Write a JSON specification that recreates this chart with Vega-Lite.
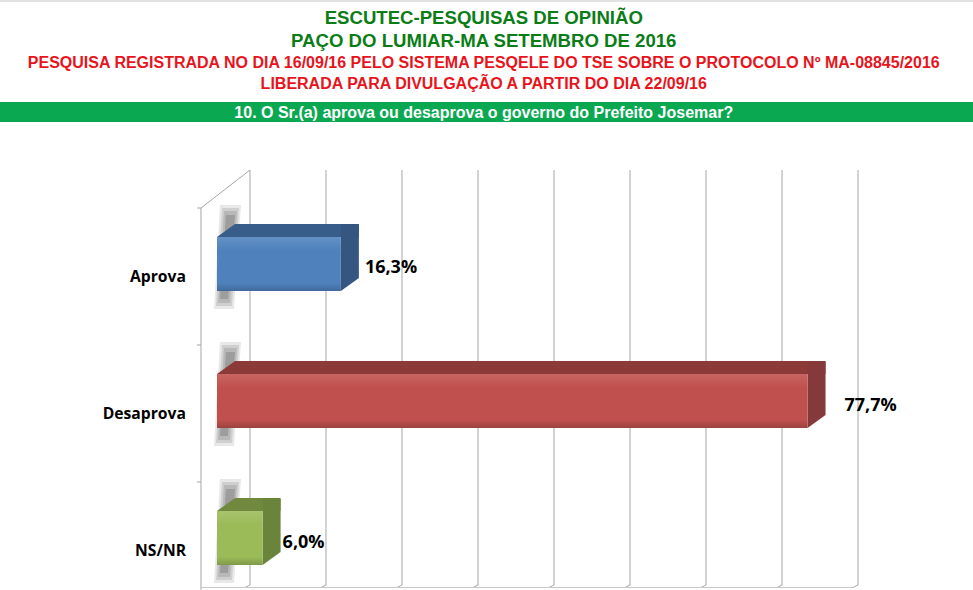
{
"$schema":"https://vega.github.io/schema/vega-lite/v6.json",
"width":973,"height":590,"padding":0,
"autosize":{"type":"fit","contains":"padding"},
"background":"#ffffff",
"view":{"stroke":null},
"datasets":{
"bars":[{"cat":"Aprova","value":16.3,"label":"16,3%"},{"cat":"Desaprova","value":77.7,"label":"77,7%"},{"cat":"NS/NR","value":6.0,"label":"6,0%"}],
"grid":[{"g":0},{"g":10},{"g":20},{"g":30},{"g":40},{"g":50},{"g":60},{"g":70},{"g":80}]
},
"data":{"name":"bars"},
"layer":[
{"data":{"values":[{"line":"strip"}]},"mark":{"type":"bar","height":2,"color":"#e2e2e2"},
 "encoding":{"y":{"field":"line","type":"nominal","axis":null,"scale":{"type":"point","domain":["strip"],"range":[1,1]}}}},
{"data":{"values":[{"line":"band"}]},"mark":{"type":"bar","height":20,"color":"#0aa851"},
 "encoding":{"y":{"field":"line","type":"nominal","axis":null,"scale":{"type":"point","domain":["band"],"range":[112,112]}}}},
{"data":{"values":[{"t":"ESCUTEC-PESQUISAS DE OPINIÃO"},{"t":"PAÇO DO LUMIAR-MA SETEMBRO DE 2016"}]},
 "mark":{"type":"text","font":"Liberation Sans","fontWeight":"bold","fontSize":18.6,"color":"#0b7d16"},
 "encoding":{"x":{"datum":35.1,"type":"quantitative","axis":null,"scale":{"domain":[-28.55,99.47],"nice":false,"zero":false}},
  "y":{"field":"t","type":"nominal","axis":null,"sort":null,"scale":{"type":"point","padding":0,"range":[18,41]}},
  "text":{"field":"t"}}},
{"data":{"values":[{"t":"PESQUISA REGISTRADA NO DIA 16/09/16 PELO SISTEMA PESQELE DO TSE SOBRE O PROTOCOLO Nº MA-08845/2016"},{"t":"LIBERADA PARA DIVULGAÇÃO A PARTIR DO DIA 22/09/16"}]},
 "mark":{"type":"text","font":"Liberation Sans","fontWeight":"bold","fontSize":16,"color":"#e8141c"},
 "encoding":{"x":{"datum":35.1,"type":"quantitative","axis":null,"scale":{"domain":[-28.55,99.47],"nice":false,"zero":false}},
  "y":{"field":"t","type":"nominal","axis":null,"sort":null,"scale":{"type":"point","padding":0,"range":[63,84]}},
  "text":{"field":"t"}}},
{"data":{"values":[{"t":"10. O Sr.(a) aprova ou desaprova o governo do Prefeito Josemar?"}]},
 "mark":{"type":"text","font":"Liberation Sans","fontWeight":"bold","fontSize":16,"color":"#ffffff"},
 "encoding":{"x":{"datum":35.1,"type":"quantitative","axis":null,"scale":{"domain":[-28.55,99.47],"nice":false,"zero":false}},
  "y":{"field":"t","type":"nominal","axis":null,"scale":{"type":"point","range":[113,113]}},
  "text":{"field":"t"}}},
{"data":{"name":"grid"},"mark":{"type":"rule","color":"#a6a6a6","strokeWidth":1,"xOffset":33},
 "encoding":{"x":{"field":"g","type":"quantitative","axis":null,"scale":{"domain":[-28.55,99.47],"nice":false,"zero":false}},
  "y":{"datum":1,"type":"quantitative","axis":null,"scale":{"domain":[0,1],"range":[585,170]}},"y2":{"datum":0}}},
{"data":{"name":"grid"},"mark":{"type":"point","filled":false,"opacity":1,"size":4,"shape":"M0,0L-5,2.5","color":"#a6a6a6","strokeWidth":1,"xOffset":33},
 "encoding":{"x":{"field":"g","type":"quantitative","axis":null,"scale":{"domain":[-28.55,99.47],"nice":false,"zero":false}},
  "y":{"datum":0,"type":"quantitative","axis":null,"scale":{"domain":[0,1],"range":[585,170]}}}},
{"data":{"values":[{"g":0}]},"mark":{"type":"rule","color":"#a6a6a6","strokeWidth":1,"xOffset":-16},
 "encoding":{"x":{"field":"g","type":"quantitative","axis":null,"scale":{"domain":[-28.55,99.47],"nice":false,"zero":false}},
  "y":{"datum":0,"type":"quantitative","axis":null,"scale":{"domain":[0,1],"range":[590,208]}},"y2":{"datum":1}}},
{"data":{"values":[{"g":0}]},"mark":{"type":"point","filled":false,"opacity":1,"size":4,"shape":"M0,0L49,-38","color":"#a6a6a6","strokeWidth":1,"xOffset":-16},
 "encoding":{"x":{"field":"g","type":"quantitative","axis":null,"scale":{"domain":[-28.55,99.47],"nice":false,"zero":false}},
  "y":{"datum":1,"type":"quantitative","axis":null,"scale":{"domain":[0,1],"range":[590,208]}}}},
{"data":{"values":[{"g":0}]},"mark":{"type":"point","filled":false,"opacity":1,"size":4,"shape":"M0,0L652,0","color":"#c8c8c8","strokeWidth":1,"xOffset":-16},
 "encoding":{"x":{"field":"g","type":"quantitative","axis":null,"scale":{"domain":[-28.55,99.47],"nice":false,"zero":false}},
  "y":{"datum":0.5,"type":"quantitative","axis":null,"scale":{"domain":[0,1],"range":[588,587]}}}},
{"mark":{"type":"point","filled":false,"opacity":1,"size":4,"shape":"M0,0L-4,0","color":"#a6a6a6","strokeWidth":1,"xOffset":-16},
 "encoding":{"x":{"datum":0,"type":"quantitative","axis":null,"scale":{"domain":[-28.55,99.47],"nice":false,"zero":false}},
  "y":{"field":"cat","type":"nominal","axis":null,"scale":{"type":"point","padding":0,"range":[208,482]}}}},
{"mark":{"type":"point","filled":true,"size":4,"shape":"M3,-32L24,-32L17,72L-3,72Z","fill":"#707070","strokeWidth":0,"opacity":0.16},
 "encoding":{"x":{"datum":0,"type":"quantitative","axis":null,"scale":{"domain":[-28.55,99.47],"nice":false,"zero":false}},
  "y":{"field":"cat","type":"nominal","axis":null,"scale":{"type":"point","padding":0,"range":[237,511]}}}},
{"mark":{"type":"point","filled":true,"size":4,"shape":"M5,-29L22,-29L15,69L-1,69Z","fill":"#707070","strokeWidth":0,"opacity":0.2},
 "encoding":{"x":{"datum":0,"type":"quantitative","axis":null,"scale":{"domain":[-28.55,99.47],"nice":false,"zero":false}},
  "y":{"field":"cat","type":"nominal","axis":null,"scale":{"type":"point","padding":0,"range":[237,511]}}}},
{"mark":{"type":"point","filled":true,"size":4,"shape":"M7,-26L20,-26L13,66L1,66Z","fill":"#707070","strokeWidth":0,"opacity":0.24},
 "encoding":{"x":{"datum":0,"type":"quantitative","axis":null,"scale":{"domain":[-28.55,99.47],"nice":false,"zero":false}},
  "y":{"field":"cat","type":"nominal","axis":null,"scale":{"type":"point","padding":0,"range":[237,511]}}}},
{"mark":{"type":"point","filled":true,"size":4,"shape":"M9,-22L18,-22L11,62L3,62Z","fill":"#606060","strokeWidth":0,"opacity":0.3},
 "encoding":{"x":{"datum":0,"type":"quantitative","axis":null,"scale":{"domain":[-28.55,99.47],"nice":false,"zero":false}},
  "y":{"field":"cat","type":"nominal","axis":null,"scale":{"type":"point","padding":0,"range":[237,511]}}}},
{"mark":{"type":"bar","height":13},
 "encoding":{"x":{"field":"value","type":"quantitative","axis":null,"scale":{"domain":[-28.55,99.47],"nice":false,"zero":false,"range":[18,991]}},
  "y":{"field":"cat","type":"nominal","axis":null,"scale":{"type":"point","padding":0,"range":[230.5,504.5]}},
  "fill":{"field":"cat","type":"nominal","legend":null,"scale":{"domain":["Aprova","Desaprova","NS/NR"],"range":["#385d8a","#8c3a38","#71893f"]}}}},
{"mark":{"type":"point","filled":true,"opacity":1,"size":4,"shape":"M0,0L18,-13L18,0Z"},
 "encoding":{"x":{"datum":0,"type":"quantitative","axis":null,"scale":{"domain":[-28.55,99.47],"nice":false,"zero":false}},
  "y":{"field":"cat","type":"nominal","axis":null,"scale":{"type":"point","padding":0,"range":[237,511]}},
  "fill":{"field":"cat","type":"nominal","legend":null,"scale":{"domain":["Aprova","Desaprova","NS/NR"],"range":["#385d8a","#8c3a38","#71893f"]}}}},
{"mark":{"type":"point","filled":true,"opacity":1,"size":4,"shape":"M0,0L0,-13L17,-13L18,-12L18,41L0,54Z"},
 "encoding":{"x":{"field":"value","type":"quantitative","axis":null,"scale":{"domain":[-28.55,99.47],"nice":false,"zero":false}},
  "y":{"field":"cat","type":"nominal","axis":null,"scale":{"type":"point","padding":0,"range":[237,511]}},
  "fill":{"field":"cat","type":"nominal","legend":null,"scale":{"domain":["Aprova","Desaprova","NS/NR"],"range":["#345680","#86393a","#6b843c"]}}}},
{"mark":{"type":"bar","height":54},
 "encoding":{"x":{"field":"value","type":"quantitative","axis":null,"scale":{"domain":[-28.55,99.47],"nice":false,"zero":false}},
  "y":{"field":"cat","type":"nominal","axis":null,"scale":{"type":"point","padding":0,"range":[264,538]}},
  "fill":{"field":"cat","type":"nominal","legend":null,"scale":{"domain":["Aprova","Desaprova","NS/NR"],"range":["#4f81bd","#c0504d","#9bbb59"]}}}},
{"mark":{"type":"bar","height":54,"color":{"gradient":"linear","x1":0,"y1":0,"x2":0,"y2":1,"stops":[{"offset":0,"color":"rgba(255,255,255,0.12)"},{"offset":0.25,"color":"rgba(255,255,255,0)"},{"offset":0.85,"color":"rgba(0,0,0,0)"},{"offset":1,"color":"rgba(0,0,0,0.18)"}]}},
 "encoding":{"x":{"field":"value","type":"quantitative","axis":null,"scale":{"domain":[-28.55,99.47],"nice":false,"zero":false}},
  "y":{"field":"cat","type":"nominal","axis":null,"scale":{"type":"point","padding":0,"range":[264,538]}}}},
{"mark":{"type":"text","font":"Open Sans","fontWeight":"bold","fontSize":15.7,"align":"right","color":"#000000","xOffset":-31},
 "encoding":{"x":{"datum":0,"type":"quantitative","axis":null,"scale":{"domain":[-28.55,99.47],"nice":false,"zero":false}},
  "y":{"field":"cat","type":"nominal","axis":null,"scale":{"type":"point","padding":0,"range":[277,551]}},
  "text":{"field":"cat"}}},
{"mark":{"type":"text","font":"Open Sans","fontWeight":"bold","fontSize":18,"align":"left","color":"#000000","xOffset":{"expr":"datum.cat==='Desaprova'?37:datum.cat==='Aprova'?24:20"}},
 "encoding":{"x":{"field":"value","type":"quantitative","axis":null,"scale":{"domain":[-28.55,99.47],"nice":false,"zero":false}},
  "y":{"field":"cat","type":"nominal","axis":null,"scale":{"type":"point","padding":0,"range":[268,543]}},
  "text":{"field":"label"}}}
],
"resolve":{"scale":{"x":"independent","y":"independent","fill":"independent"}}
}
